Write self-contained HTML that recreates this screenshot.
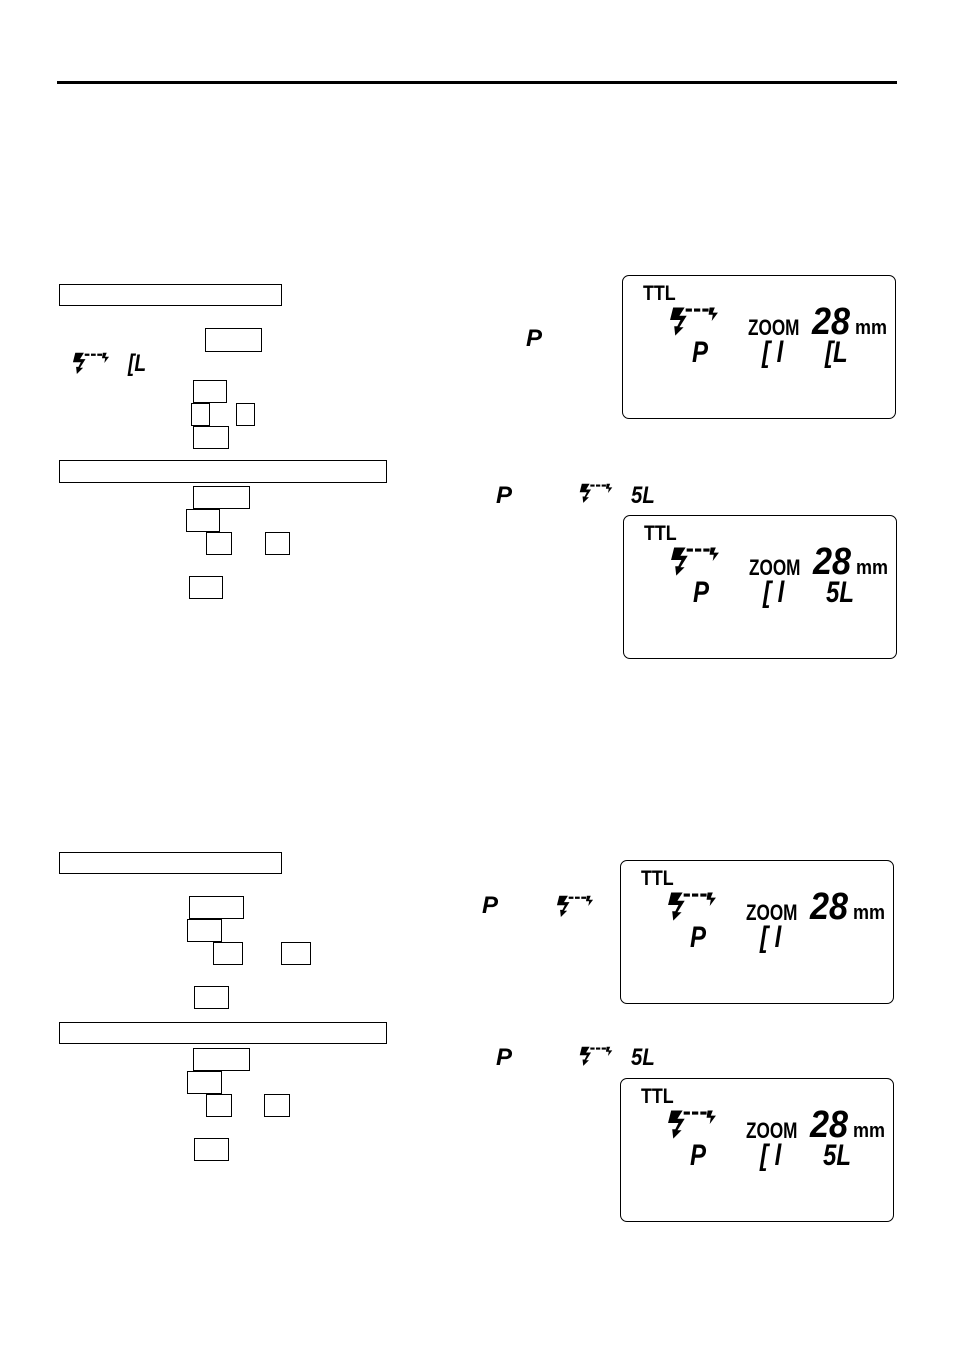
<!DOCTYPE html>
<html><head><meta charset="utf-8"><style>
body{margin:0;width:954px;height:1356px;background:#fff;position:relative;overflow:hidden;font-family:"Liberation Sans",sans-serif}
.b{position:absolute;border:1.3px solid #000;box-sizing:border-box}
.lcd{position:absolute;width:274px;height:144px;border:1.3px solid #000;border-radius:7px;box-sizing:border-box}
.lcd>*{position:absolute;line-height:1}
.ttl{left:20px;top:7px;font-size:21px;font-weight:bold;transform:scaleX(.85);transform-origin:left}
.zm{left:125px;top:41px;font-size:22px;font-weight:bold;transform:scaleX(.78);transform-origin:left}
.n28{left:189px;top:27px;font-size:38px;font-style:italic;font-weight:bold;transform:scaleX(.9);transform-origin:left}
.mm{left:232px;top:42px;font-size:20px;font-weight:bold;transform:scaleX(.9);transform-origin:left}
.seg{font-size:30px;font-style:italic;font-weight:bold;top:62px;transform:scaleX(.8);transform-origin:left}
.fl{left:46px;top:30px}
.t{position:absolute;line-height:1;font-style:italic;font-weight:bold}
</style></head><body>
<div style="position:absolute;left:57px;top:81px;width:840px;height:3px;background:#000"></div>

<svg width="0" height="0" style="position:absolute"><defs>
<symbol id="f" viewBox="0 0 48 28"><path d="M4 1h11l-5 8h7l-7 11h4l-8 8-1-9h3l3-6H1z M16 2h6v3h-6z M24 2h6v3h-6z M32 2h6v3h-6z M39 1h5l-2 5h5l-6 8 1-6h-4z" fill="#000"/></symbol>
</defs></svg>

<!-- section 1 -->
<div class="b" style="left:59px;top:284px;width:223px;height:22px"></div>
<div class="b" style="left:205px;top:328px;width:57px;height:24px"></div>
<svg class="t" style="left:72px;top:352px" width="38" height="22"><use href="#f"/></svg>
<div class="t" style="left:128px;top:352px;font-size:24px;transform:scaleX(.8);transform-origin:left">[L</div>
<div class="t" style="left:526px;top:327px;font-size:24px">P</div>
<div class="b" style="left:193px;top:380px;width:34px;height:23px"></div>
<div class="b" style="left:191px;top:403px;width:19px;height:23px"></div>
<div class="b" style="left:236px;top:403px;width:19px;height:23px"></div>
<div class="b" style="left:193px;top:426px;width:36px;height:23px"></div>
<div class="b" style="left:59px;top:460px;width:328px;height:23px"></div>
<div class="b" style="left:193px;top:486px;width:57px;height:23px"></div>
<div class="b" style="left:186px;top:509px;width:34px;height:23px"></div>
<div class="b" style="left:206px;top:532px;width:26px;height:23px"></div>
<div class="b" style="left:265px;top:532px;width:25px;height:23px"></div>
<div class="b" style="left:189px;top:576px;width:34px;height:23px"></div>
<div class="t" style="left:496px;top:484px;font-size:24px">P</div>
<svg class="t" style="left:579px;top:483px" width="34" height="20"><use href="#f"/></svg>
<div class="t" style="left:631px;top:484px;font-size:24px;transform:scaleX(.85);transform-origin:left">5L</div>

<div class="lcd" style="left:622px;top:275px">
<div class="ttl">TTL</div><svg class="fl" width="50" height="30"><use href="#f"/></svg>
<div class="zm">ZOOM</div><div class="n28">28</div><div class="mm">mm</div>
<div class="seg" style="left:69px">P</div><div class="seg" style="left:139px">[ l</div><div class="seg" style="left:202px">[L</div>
</div>
<div class="lcd" style="left:623px;top:515px">
<div class="ttl">TTL</div><svg class="fl" width="50" height="30"><use href="#f"/></svg>
<div class="zm">ZOOM</div><div class="n28">28</div><div class="mm">mm</div>
<div class="seg" style="left:69px">P</div><div class="seg" style="left:139px">[ l</div><div class="seg" style="left:202px">5L</div>
</div>

<!-- section 2 -->
<div class="b" style="left:59px;top:852px;width:223px;height:22px"></div>
<div class="b" style="left:189px;top:896px;width:55px;height:23px"></div>
<div class="b" style="left:187px;top:919px;width:35px;height:23px"></div>
<div class="b" style="left:213px;top:942px;width:30px;height:23px"></div>
<div class="b" style="left:281px;top:942px;width:30px;height:23px"></div>
<div class="b" style="left:194px;top:986px;width:35px;height:23px"></div>
<div class="t" style="left:482px;top:894px;font-size:24px">P</div>
<svg class="t" style="left:556px;top:895px" width="38" height="22"><use href="#f"/></svg>
<div class="b" style="left:59px;top:1022px;width:328px;height:22px"></div>
<div class="b" style="left:193px;top:1048px;width:57px;height:23px"></div>
<div class="b" style="left:187px;top:1071px;width:35px;height:23px"></div>
<div class="b" style="left:206px;top:1094px;width:26px;height:23px"></div>
<div class="b" style="left:264px;top:1094px;width:26px;height:23px"></div>
<div class="b" style="left:194px;top:1138px;width:35px;height:23px"></div>
<div class="t" style="left:496px;top:1046px;font-size:24px">P</div>
<svg class="t" style="left:579px;top:1046px" width="34" height="20"><use href="#f"/></svg>
<div class="t" style="left:631px;top:1046px;font-size:24px;transform:scaleX(.85);transform-origin:left">5L</div>

<div class="lcd" style="left:620px;top:860px">
<div class="ttl">TTL</div><svg class="fl" width="50" height="30"><use href="#f"/></svg>
<div class="zm">ZOOM</div><div class="n28">28</div><div class="mm">mm</div>
<div class="seg" style="left:69px">P</div><div class="seg" style="left:139px">[ l</div>
</div>
<div class="lcd" style="left:620px;top:1078px">
<div class="ttl">TTL</div><svg class="fl" width="50" height="30"><use href="#f"/></svg>
<div class="zm">ZOOM</div><div class="n28">28</div><div class="mm">mm</div>
<div class="seg" style="left:69px">P</div><div class="seg" style="left:139px">[ l</div><div class="seg" style="left:202px">5L</div>
</div>
</body></html>
